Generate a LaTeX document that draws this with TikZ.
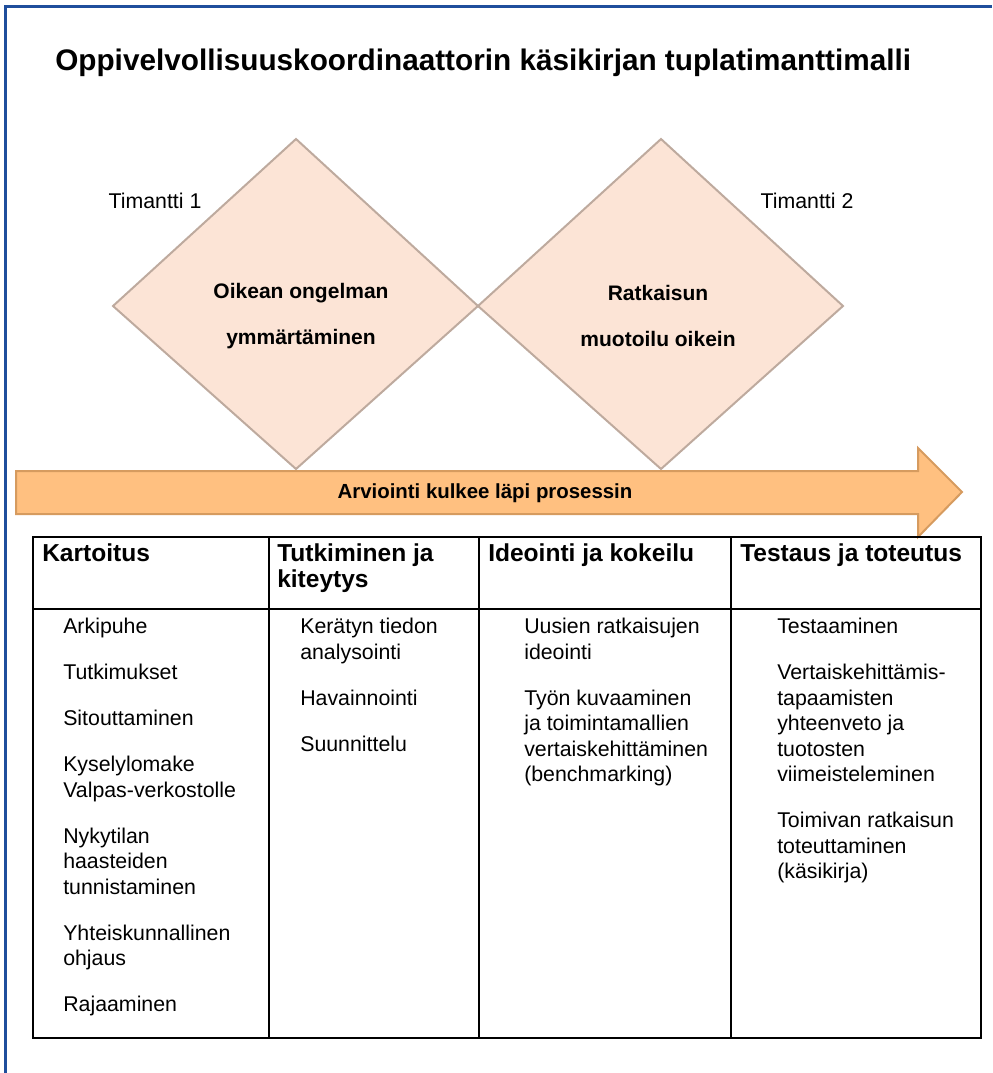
\documentclass[tikz,border=0pt]{standalone}
\usepackage{fontspec}
\setmainfont{Liberation Sans}
\usetikzlibrary{positioning}
\definecolor{framebl}{RGB}{31,78,156}
\definecolor{gemfill}{RGB}{252,228,214}
\definecolor{gemline}{RGB}{190,170,158}
\definecolor{arrfill}{RGB}{255,192,128}
\definecolor{arrline}{RGB}{214,155,95}
\tikzset{
  gem/.style={draw=gemline, fill=gemfill, line width=1.5pt},
  gemtxt/.style={align=center, inner sep=0pt, font=\bfseries\fontsize{15.75}{34.5}\selectfont},
  hd/.style={anchor=north west, inner sep=0pt, align=left, font=\bfseries\fontsize{18.4}{19.5}\selectfont},
  cell/.style={anchor=north west, inner sep=0pt, align=left, font=\fontsize{16}{19.1}\selectfont},
  tline/.style={line width=1.1pt}}
\newcommand{\itemgap}{\\[15.4pt]}

\begin{document}
\begin{tikzpicture}[x=0.75pt,y=-0.75pt]
  \useasboundingbox (0,0) rectangle (992,1073);
  \draw[framebl, line width=2.25pt] (5,1073) -- (5,7) -- (992,7);
  \node[anchor=west, inner sep=0pt, font=\bfseries\fontsize{22.3}{26}\selectfont] (title) at (55,63) {Oppivelvollisuuskoordinaattorin käsikirjan tuplatimanttimalli};
  % diamonds
  \coordinate (l1) at (113,306);
  \coordinate (t1) at (296,139);
  \coordinate (b1) at (296,469);
  \coordinate (m) at (478,306);
  \coordinate (t2) at (661,139);
  \coordinate (b2) at (661,469);
  \coordinate (r2) at (843,306);
  \draw[gem] (l1) -- (t1) -- (m) -- (b1) -- cycle;
  \draw[gem] (m) -- (t2) -- (r2) -- (b2) -- cycle;
  \node[gemtxt] (g1) at (301,316) {Oikean ongelman\\ymmärtäminen};
  \node[gemtxt] (g2) at (658,316) {Ratkaisun\\muotoilu oikein};
  \node[font=\fontsize{16}{19}\selectfont] (k1) at (155,201) {Timantti 1};
  \node[font=\fontsize{16}{19}\selectfont] (k2) at (807,201) {Timantti 2};
  % arrow
  \draw[arrline, fill=arrfill, line width=1.5pt] (16,471) -- (918,471) -- (918,448) -- (962,492) -- (918,537) -- (918,514) -- (16,514) -- cycle;
  \node[font=\bfseries\fontsize{15.3}{18}\selectfont] (eval) at (485,493) {Arviointi kulkee läpi prosessin};
  % table
  \draw[tline] (33,537) rectangle (981,1038);
  \draw[tline] (33,609) -- (981,609);
  \foreach \x in {269,479,731}
    \draw[tline] (\x,537) -- (\x,1038);
  \node[hd] (h1) at (42,543) {Kartoitus};
  \node[hd] (h2) at (277,543) {Tutkiminen ja\\kiteytys};
  \node[hd] (h3) at (488,543) {Ideointi ja kokeilu};
  \node[hd] (h4) at (740,543) {Testaus ja toteutus};
  \node[cell] (c1) at (63,618) {Arkipuhe\itemgap Tutkimukset\itemgap Sitouttaminen\itemgap Kyselylomake\\Valpas-verkostolle\itemgap Nykytilan\\haasteiden\\tunnistaminen\itemgap Yhteiskunnallinen\\ohjaus\itemgap Rajaaminen};
  \node[cell] (c2) at (300,618) {Kerätyn tiedon\\analysointi\itemgap Havainnointi\itemgap Suunnittelu};
  \node[cell] (c3) at (524,618) {Uusien ratkaisujen\\ideointi\itemgap Työn kuvaaminen\\ja toimintamallien\\vertaiskehittäminen\\(benchmarking)};
  \node[cell] (c4) at (777,618) {Testaaminen\itemgap Vertaiskehittämis-\\tapaamisten\\yhteenveto ja\\tuotosten\\viimeisteleminen\itemgap Toimivan ratkaisun\\toteuttaminen\\(käsikirja)};
\end{tikzpicture}
\end{document}
